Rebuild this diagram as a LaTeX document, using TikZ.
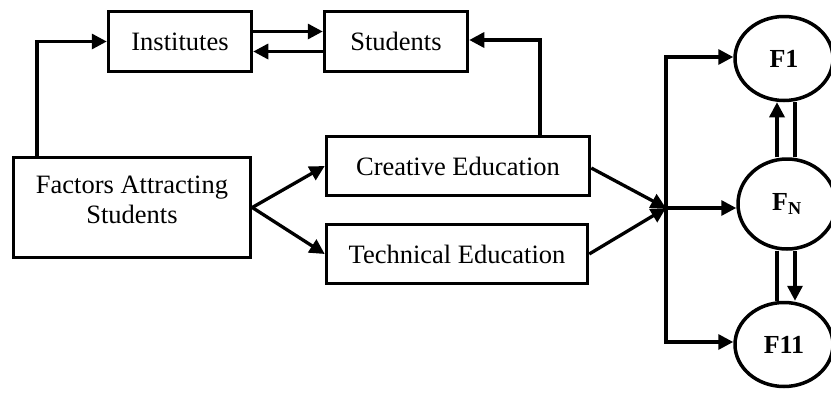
\documentclass[tikz,border=0pt]{standalone}
\usepackage{fontspec}
\setmainfont{Liberation Serif}
\usetikzlibrary{arrows.meta,shapes.geometric,calc}
\begin{document}
\begin{tikzpicture}[x=1pt,y=-1pt,
  every node/.style={font=\fontsize{26.5}{30}\selectfont},
  box/.style={draw,line width=3.5pt,rectangle,inner sep=0pt},
  factor/.style={draw,line width=3.5pt,ellipse,inner sep=0pt,
    minimum width=98pt,minimum height=84pt,font=\fontsize{26}{30}\selectfont\bfseries},
  link/.style={line width=3.3pt},
  arr/.style={link,-{Triangle[length=15pt,width=15pt]}}
]
\useasboundingbox (0,0) rectangle (831,394);

% boxes
\node[box,minimum width=143pt,minimum height=60pt] (inst) at (180,41.5) {Institutes};
\node[box,minimum width=143pt,minimum height=60pt] (stud) at (396,41.5) {Students};
\node[box,minimum width=237pt,minimum height=100pt] (fac) at (132,207.5) {};
\node (factext) at (132,200) [align=center] {Factors Attracting\\Students};
\node[box,minimum width=263pt,minimum height=59pt] (crea) at (458,166) {Creative Education};
\node[box,minimum width=261pt,minimum height=59pt] (tech) at (457,254) {Technical Education};

% factor circles
\node[factor] (f1) at (784,58.5) {F1};
\node[factor,minimum height=90pt] (fn) at (787,204) {F\textsubscript{N}};
\node[factor] (f11) at (784,344.5) {F11};

% junction of the two education streams
\coordinate (hub) at (666,208);

% connections along the top
\draw[arr] ([xshift=-95pt]fac.north) |- (inst.west);
\draw[arr] ([yshift=10pt]inst.east) -- ([yshift=10pt]stud.west);
\draw[arr] ([yshift=-10pt]stud.west) -- ([yshift=-10pt]inst.east);
\draw[arr] ([xshift=82pt]crea.north) |- ([yshift=1.5pt]stud.east);

% fork into the two education streams
\draw[arr] (fac.east) -- (crea.west);
\draw[arr] (fac.east) -- (tech.west);

% streams merge
\draw[arr] ([yshift=-2pt]crea.east) -- (hub);
\draw[arr] (tech.east) -- (hub);

% distribution to the factors
\draw[arr] (hub) |- ([yshift=1.5pt]f1.west);
\draw[arr] (hub) -- (hub -| fn.west);
\draw[arr] (hub) |- ([yshift=2.5pt]f11.west);

% links between the factors
\draw[arr] ([xshift=-10pt]fn.north) -- ([xshift=-7pt]f1.south);
\draw[link] ([xshift=8pt]fn.north) -- ([xshift=11pt]f1.south);
\draw[link] ([xshift=-10pt]fn.south) -- ([xshift=-7pt]f11.north);
\draw[arr] ([xshift=8pt]fn.south) -- ([xshift=11pt]f11.north);
\end{tikzpicture}
\end{document}
